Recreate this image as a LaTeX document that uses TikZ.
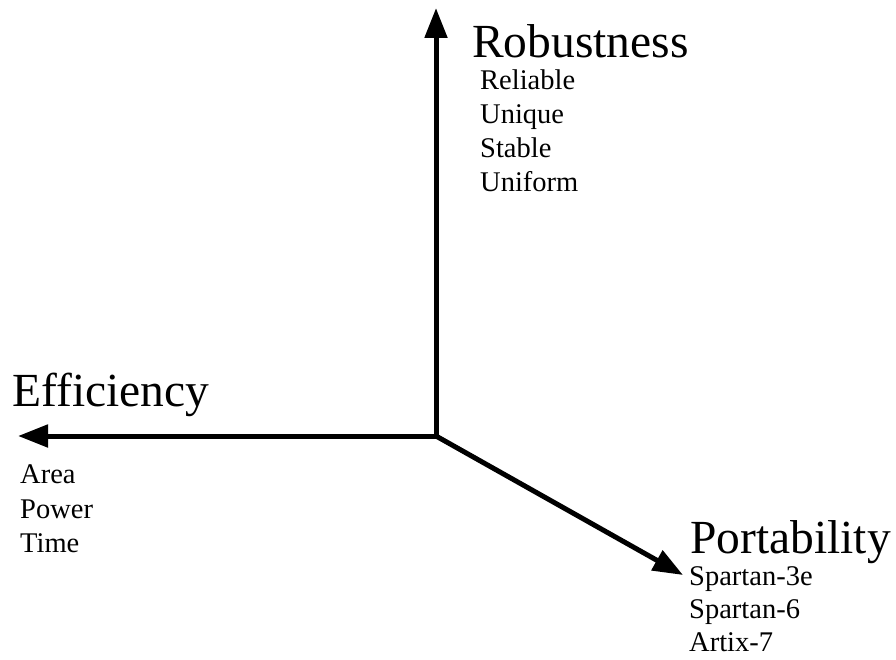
\documentclass[tikz,border=0pt]{standalone}
\usepackage{fontspec}
\setmainfont{Liberation Serif}
\usetikzlibrary{arrows.meta}
\tikzstyle{axis} = [line width=5pt, line cap=round,
  -{Triangle[length=30pt, width=22pt]}]
\tikzstyle{title} = [anchor=base west, inner sep=0pt,
  font=\fontsize{47.5}{47.5}\selectfont]
\tikzstyle{item} = [anchor=base west, inner sep=0pt,
  font=\fontsize{28.5}{28.5}\selectfont]

\begin{document}
\begin{tikzpicture}[x=1pt, y=-1pt]
\useasboundingbox (0,0) rectangle (896,660);

%% axis ends
\coordinate (origin) at (436,436);
\coordinate (robustTip) at (436,8);
\coordinate (effTip) at (18,436);
\coordinate (portTip) at (683,575);

%% labels
\node (robust) [title] at (472,58) {Robustness};
\node (reliable) [item] at (480,90) {Reliable};
\node (unique) [item] at (480,124) {Unique};
\node (stable) [item] at (480,158) {Stable};
\node (uniform) [item] at (480,192) {Uniform};

\node (effic) [title] at (12,406) {Efficiency};
\node (area) [item] at (20,483) {Area};
\node (power) [item] at (20,518) {Power};
\node (time) [item] at (20,552) {Time};

\node (port) [title] at (690,553) {Portability};
\node (spartan3) [item] at (689,585) {Spartan-3e};
\node (spartan6) [item] at (689,618) {Spartan-6};
\node (artix) [item] at (689,651) {Artix-7};

%% axes
\draw [axis] (origin) -- (robustTip);
\draw [axis] (origin) -- (effTip);
\draw [axis] (origin) -- (portTip);

\end{tikzpicture}
\end{document}
